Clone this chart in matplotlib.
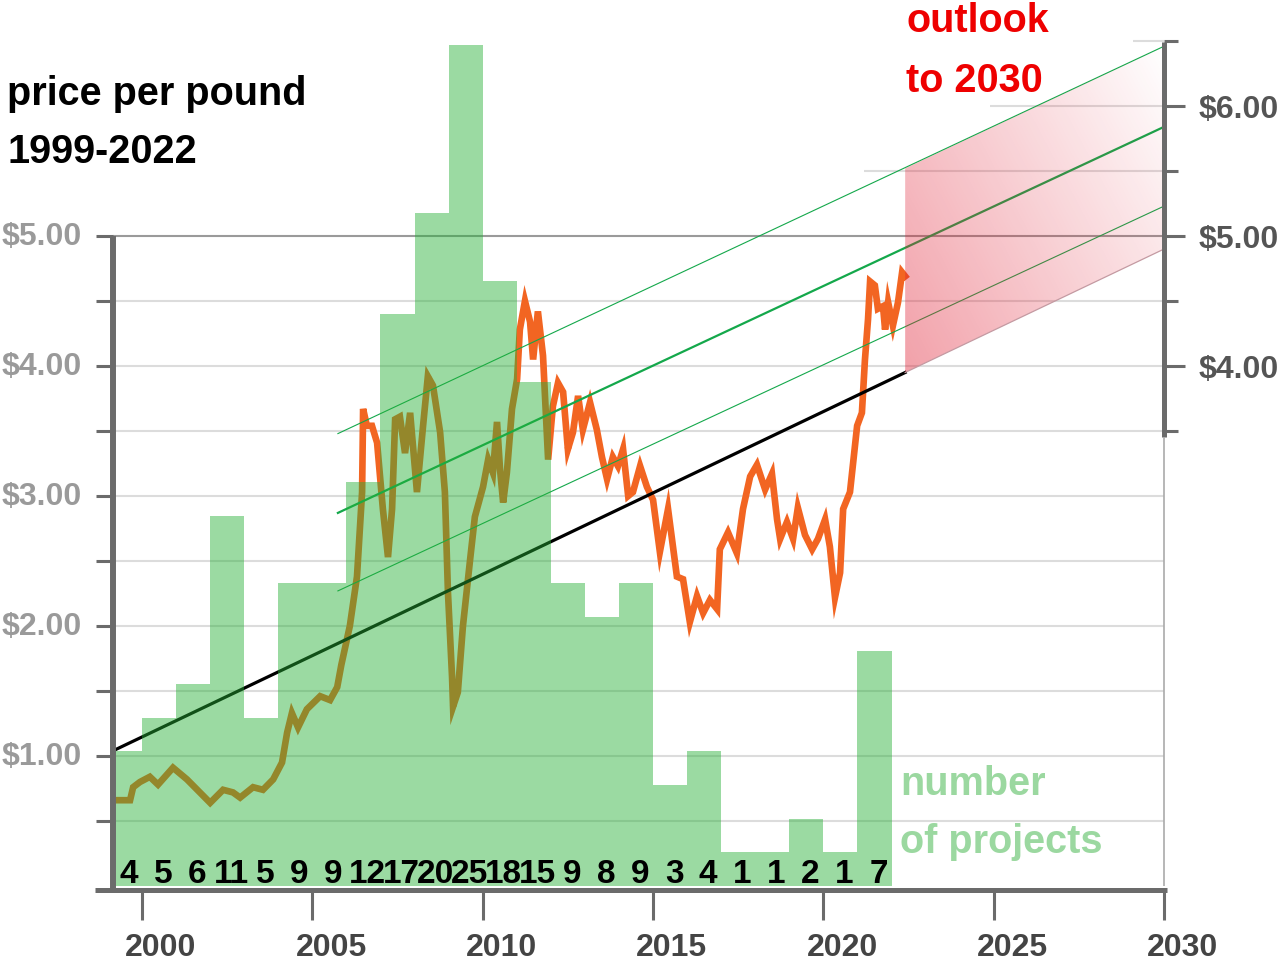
"""Price per pound 1999-2022 with project counts and an outlook channel to 2030."""
import numpy as np
import matplotlib
matplotlib.use('Agg')
import matplotlib.pyplot as plt
from matplotlib.patches import Rectangle, Polygon

plt.rcParams['font.family'] = ['Liberation Sans', 'DejaVu Sans']

W, H, DPI = 1282, 961, 100

# ── Data ──
proj_years = list(range(1999, 2022))
proj_counts = [4, 5, 6, 11, 5, 9, 9, 12, 17, 20, 25, 18, 15, 9, 8, 9, 3, 4, 1, 1, 2, 1, 7]
PROJ_SCALE = 0.2587          # bars share the price axis: $ per project

price_t = [1999.26, 1999.65, 1999.74, 1999.94, 2000.23, 2000.47, 2000.91, 2001.32, 2001.70,
           2002.00, 2002.38, 2002.67, 2002.88, 2003.26, 2003.55, 2003.85, 2004.11, 2004.26,
           2004.40, 2004.58, 2004.84, 2005.23, 2005.52, 2005.73, 2005.85, 2006.10, 2006.31,
           2006.46, 2006.49, 2006.60, 2006.75, 2006.90, 2007.07, 2007.22, 2007.34, 2007.43,
           2007.57, 2007.72, 2007.87, 2008.07, 2008.25, 2008.39, 2008.54, 2008.75, 2008.89,
           2008.98, 2009.10, 2009.13, 2009.27, 2009.42, 2009.63, 2009.77, 2010.01, 2010.16,
           2010.30, 2010.42, 2010.51, 2010.60, 2010.71, 2010.86, 2011.01, 2011.09, 2011.24,
           2011.39, 2011.48, 2011.62, 2011.77, 2011.92, 2012.06, 2012.21, 2012.36, 2012.50,
           2012.65, 2012.80, 2012.94, 2013.15, 2013.35, 2013.50, 2013.65, 2013.82, 2013.97,
           2014.12, 2014.27, 2014.41, 2014.62, 2014.82, 2015.00, 2015.20, 2015.44, 2015.70,
           2015.88, 2016.08, 2016.29, 2016.47, 2016.67, 2016.88, 2016.96, 2017.20, 2017.46,
           2017.64, 2017.85, 2018.05, 2018.29, 2018.49, 2018.64, 2018.73, 2018.93, 2019.11,
           2019.25, 2019.46, 2019.67, 2019.84, 2020.05, 2020.19, 2020.34, 2020.49, 2020.58,
           2020.78, 2020.99, 2021.13, 2021.22, 2021.31, 2021.37, 2021.51, 2021.60, 2021.75,
           2021.81, 2021.90, 2022.04, 2022.19, 2022.31, 2022.40]
price_v = [0.66, 0.66, 0.76, 0.80, 0.84, 0.78, 0.91, 0.82, 0.72,
           0.64, 0.74, 0.72, 0.68, 0.76, 0.74, 0.82, 0.95, 1.18,
           1.33, 1.22, 1.36, 1.46, 1.43, 1.53, 1.70, 2.00, 2.38,
           3.03, 3.67, 3.54, 3.54, 3.41, 2.90, 2.53, 2.90, 3.59,
           3.61, 3.33, 3.64, 3.03, 3.54, 3.92, 3.85, 3.49, 3.03,
           2.26, 1.61, 1.38, 1.49, 2.00, 2.51, 2.84, 3.07, 3.28,
           3.18, 3.57, 3.20, 2.95, 3.18, 3.67, 3.90, 4.28, 4.50,
           4.34, 4.05, 4.42, 4.08, 3.28, 3.69, 3.87, 3.80, 3.36,
           3.49, 3.77, 3.51, 3.72, 3.51, 3.30, 3.13, 3.30, 3.23,
           3.36, 3.00, 3.03, 3.23, 3.07, 2.97, 2.57, 2.90, 2.38,
           2.36, 2.03, 2.23, 2.10, 2.20, 2.13, 2.59, 2.72, 2.56,
           2.90, 3.15, 3.24, 3.05, 3.17, 2.82, 2.67, 2.80, 2.67,
           2.91, 2.70, 2.59, 2.67, 2.82, 2.61, 2.22, 2.41, 2.90,
           3.03, 3.54, 3.64, 4.05, 4.36, 4.65, 4.62, 4.44, 4.46,
           4.28, 4.49, 4.31, 4.49, 4.72, 4.69]

trend_x = [1999.15, 2022.4]
trend_y = [1.04, 3.95]
chan_x = [2005.75, 2030]
chan_upper = [3.48, 6.46]
chan_mid = [2.87, 5.84]
chan_lower = [2.27, 5.23]
outlook_x = [2022.4, 2030]
outlook_low = [3.95, 4.90]
outlook_high = [5.52, 6.46]

left_ticks = [1, 2, 3, 4, 5]
right_ticks = [4, 5, 6]
year_ticks = [2000, 2005, 2010, 2015, 2020, 2025, 2030]

X0 = 1999.15        # left axis position
X1 = 2030

# ── Figure: one axes spanning the whole canvas ──
fig = plt.figure(figsize=(W / DPI, H / DPI), dpi=DPI)
ax = fig.add_axes([0, 0, 1, 1])
ax.axis('off')


def fx(px):
    return px / W


def fy(py):
    return 1 - py / H


AX_GREY = '#6b6b6b'

# grid
for g in np.arange(0.5, 5.0, 0.5):
    ax.hlines(g, X0, X1, color='#dcdcdc', lw=1.5, zorder=1)
ax.hlines(5.0, X0, X1, color='#9a9a9a', lw=1.5, zorder=1)
for g, start in [(5.5, 2021.2), (6.0, 2024.9), (6.5, 2029.1)]:
    ax.hlines(g, start, X1, color='#dcdcdc', lw=1.5, zorder=1)

# price + trend lines (under the bars)
ax.plot(price_t, price_v, color='#f26522', lw=4.8, solid_joinstyle='miter', zorder=2)
ax.plot(trend_x, trend_y, color='black', lw=2.3, zorder=2)
ax.plot(chan_x, chan_upper, color='#14a84b', lw=0.8, zorder=2)
ax.plot(chan_x, chan_mid, color='#14a84b', lw=1.6, zorder=2)
ax.plot(chan_x, chan_lower, color='#14a84b', lw=0.8, zorder=2)

# project bars
bars = ax.bar(proj_years, np.array(proj_counts) * PROJ_SCALE, width=1.0, align='edge',
              color=(0.15, 0.69, 0.21), alpha=0.46, linewidth=0, zorder=3)
clip = Rectangle((X0, -1), 40, 20, transform=ax.transData)
for b in bars:
    b.set_clip_path(clip)
for yr, c in zip(proj_years, proj_counts):
    ax.text(yr + 0.62, 0.023, str(c), ha='center', va='baseline', fontsize=24,
            fontweight='bold', family=['Liberation Sans Narrow', 'Liberation Sans'],
            color='black', zorder=6)

# outlook band with fading gradient
nx, ny = 300, 300
U, V = np.meshgrid(np.linspace(0, 1, nx), np.linspace(0, 1, ny))
t = 0.6 * U + 0.4 * V
img = np.zeros((ny, nx, 4))
img[..., 0], img[..., 1], img[..., 2] = 0.88, 0.12, 0.20
img[..., 3] = np.clip(0.42 * (1 - t), 0, 1)
im = ax.imshow(img, extent=[outlook_x[0], outlook_x[1], outlook_low[0], outlook_high[1]],
               origin='lower', aspect='auto', interpolation='bilinear', zorder=4)
band = Polygon([(outlook_x[0], outlook_low[0]), (outlook_x[1], outlook_low[1]),
                (outlook_x[1], outlook_high[1]), (outlook_x[0], outlook_high[0])],
               closed=True, facecolor='none', edgecolor='none')
ax.add_patch(band)
im.set_clip_path(band)
ax.plot(outlook_x, outlook_low, color='#c49aa2', lw=0.9, zorder=4)

# axes lines and ticks
ax.vlines(X0, -0.027, 5.0, color=AX_GREY, lw=4.3, zorder=5)
ax.hlines(-0.027, 1998.62, 2030.09, color=AX_GREY, lw=3.6, zorder=5)
ax.vlines(X1, 3.45, 6.49, color=AX_GREY, lw=3.6, zorder=5)
ax.vlines(X1, 0, 3.45, color='#aaaaaa', lw=1.2, zorder=5)
for p in np.arange(0.5, 5.01, 0.5):
    ax.hlines(p, 1998.65, X0, color=AX_GREY, lw=2.2, zorder=5)
for p in np.arange(3.5, 6.51, 0.5):
    end = 2030.62 if p == int(p) else 2030.41
    ax.hlines(p, X1, end, color=AX_GREY, lw=2.2, zorder=5)
for yr in year_ticks:
    ax.vlines(yr, -0.26, -0.027, color=AX_GREY, lw=2.2, zorder=5)

ax.set_xlim(2000 - 142 / 34.07, 2000 + 1140 / 34.07)
ax.set_ylim(-75 / 130, 886 / 130)

# tick labels
for p in left_ticks:
    ax.text(1998.22, p - 0.01, f'${p:.2f}', ha='right', va='center', fontsize=23,
            fontweight='bold', color='#9a9a9a')
for p in right_ticks:
    ax.text(2031.0, p - 0.03, f'${p:.2f}', ha='left', va='center', fontsize=23,
            fontweight='bold', color='#555555')
for yr in year_ticks:
    ax.text(yr + 0.55, -0.475, str(yr), ha='center', va='center', fontsize=23,
            fontweight='bold', color='#444444')

# annotations
fig.text(fx(7), fy(105), 'price per pound', fontsize=28.5, fontweight='bold', color='black')
fig.text(fx(7), fy(163), '1999-2022', fontsize=28.5, fontweight='bold', color='black')
fig.text(fx(906), fy(32), 'outlook', fontsize=28.5, fontweight='bold', color='#ee0000')
fig.text(fx(906), fy(92), 'to 2030', fontsize=28.5, fontweight='bold', color='#ee0000')
fig.text(fx(900), fy(795), 'number', fontsize=28.5, fontweight='bold', color='#9bd8a0')
fig.text(fx(900), fy(853), 'of projects', fontsize=28.5, fontweight='bold', color='#9bd8a0')

fig.savefig('out.png', dpi=DPI)
